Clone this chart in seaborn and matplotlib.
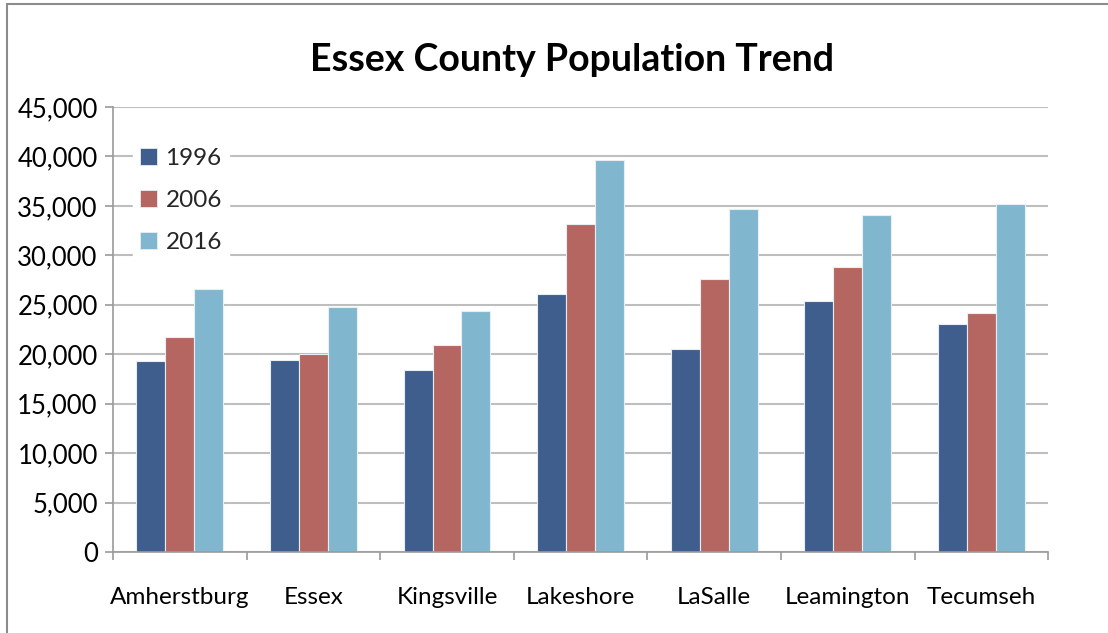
import matplotlib
matplotlib.use("Agg")
import matplotlib.pyplot as plt
import seaborn as sns
import pandas as pd
from matplotlib.patches import Patch
from matplotlib.ticker import FuncFormatter, MultipleLocator, FixedLocator

# Population by municipality for three census years
towns = ["Amherstburg", "Essex", "Kingsville", "Lakeshore", "LaSalle", "Leamington", "Tecumseh"]
years = ["1996", "2006", "2016"]
pop_1996 = [19300, 19400, 18400, 26100, 20500, 25400, 23100]
pop_2006 = [21700, 20000, 20900, 33200, 27650, 28800, 24200]
pop_2016 = [26600, 24800, 24400, 39600, 34700, 34100, 35200]
colors = ["#3F5E8D", "#B66661", "#80B7CF"]

df = pd.DataFrame({
    "town": towns * 3,
    "year": [years[0]] * 7 + [years[1]] * 7 + [years[2]] * 7,
    "pop": pop_1996 + pop_2006 + pop_2016,
})

sns.set_theme(style="white")
plt.rcParams["font.family"] = ["Lato", "DejaVu Sans"]

fig = plt.figure(figsize=(11.08, 6.33), dpi=100)
ax = fig.add_axes([0.102, 0.128, 0.844, 0.703])

sns.barplot(data=df, x="town", y="pop", hue="year", palette=colors,
            width=0.65, edgecolor="#E6EEF4", linewidth=0.8, ax=ax,
            legend=False, saturation=1)

ax.set_ylim(0, 45000)
ax.set_xlim(-0.5, 6.5)
ax.yaxis.set_major_locator(MultipleLocator(5000))
ax.yaxis.set_major_formatter(FuncFormatter(lambda v, p: f"{int(v):,}"))
ax.grid(axis="y", color="#BEBEBE", linewidth=1.5)
ax.set_axisbelow(True)
ax.set_xlabel("")
ax.set_ylabel("")

for s in ["top", "right"]:
    ax.spines[s].set_visible(False)
for s in ["left", "bottom"]:
    ax.spines[s].set_color("#9A9A9A")
    ax.spines[s].set_linewidth(1.2)

ax.tick_params(axis="y", which="major", length=6, width=1.2, color="#9A9A9A",
               direction="out", labelsize=18.5, pad=5, left=True)
ax.tick_params(axis="x", which="major", length=0, labelsize=17.5, pad=25, bottom=True)
ax.xaxis.set_minor_locator(FixedLocator([i - 0.5 for i in range(8)]))
ax.tick_params(axis="x", which="minor", length=6, width=1.2, color="#9A9A9A",
               direction="out", bottom=True)
for lab in ax.get_yticklabels() + ax.get_xticklabels():
    lab.set_color("black")

handles = [Patch(facecolor=c, edgecolor="#E6EEF4", linewidth=0.6) for c in colors]
leg = ax.legend(handles, years, loc="upper left", bbox_to_anchor=(0.008, 0.951),
                frameon=True, fontsize=17.5, handlelength=0.7, handleheight=0.7,
                handletextpad=0.35, labelspacing=0.86, borderpad=0.3,
                borderaxespad=0.5)
leg.get_frame().set_facecolor("white")
leg.get_frame().set_edgecolor("white")
leg.get_frame().set_alpha(1)

fig.text(0.516, 0.905, "Essex County Population Trend", ha="center", va="center",
         fontsize=27, fontweight="bold", color="black")

# Chart-area border along the top and left edges
fig.add_artist(plt.Line2D([0.006, 1.0], [0.994, 0.994], transform=fig.transFigure,
                          color="#8C8C8C", linewidth=1.5))
fig.add_artist(plt.Line2D([0.006, 0.006], [0.0, 0.994], transform=fig.transFigure,
                          color="#8C8C8C", linewidth=1.5))

fig.savefig("out.png", dpi=100, facecolor="white")
